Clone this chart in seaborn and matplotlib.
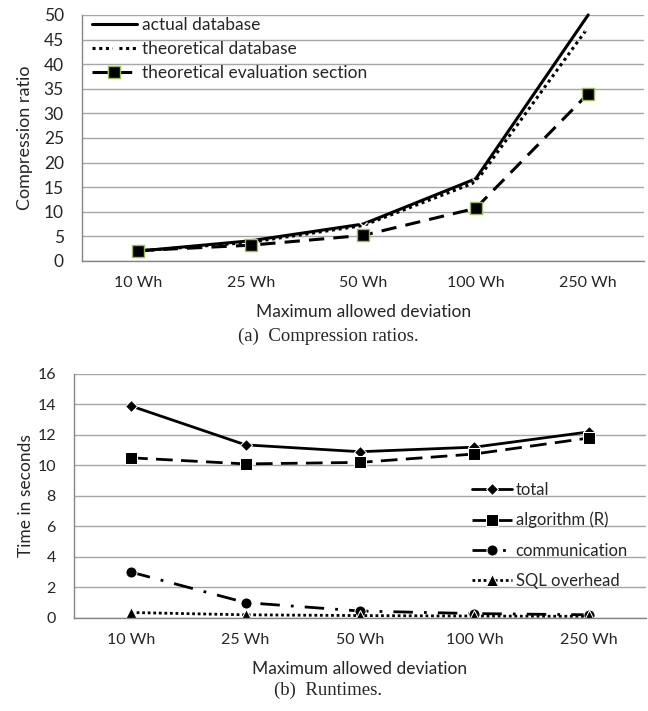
import matplotlib
matplotlib.use("Agg")
import matplotlib.pyplot as plt
import seaborn as sns
import pandas as pd
import numpy as np

# data
deviation = ["10 Wh", "25 Wh", "50 Wh", "100 Wh", "250 Wh"]

actual_db = [2.0, 4.1, 7.5, 16.7, 50.0]
theo_db = [2.0, 3.8, 7.2, 16.0, 47.5]
theo_eval = [2.1, 3.2, 5.2, 10.7, 34.0]

rt_total = [13.9, 11.35, 10.9, 11.2, 12.2]
rt_algo = [10.5, 10.1, 10.2, 10.75, 11.8]
rt_comm = [3.0, 1.0, 0.45, 0.28, 0.2]
rt_sql = [0.35, 0.2, 0.15, 0.12, 0.1]

sns.set_style("white")
plt.rcParams['font.family'] = ['Lato', 'DejaVu Sans']

GRID = '#a6a6a6'
SPINE = '#868686'


def style_axes(ax, ymax, ystep, tick_fs):
    ax.set_xlim(-0.5, len(deviation) - 0.5)
    ax.set_ylim(0, ymax)
    ax.set_yticks(np.arange(0, ymax + 0.1, ystep))
    ax.set_xticks(range(len(deviation)))
    ax.set_xticklabels(deviation, fontsize=11.5)
    ax.set_xticks(np.arange(-0.5, len(deviation), 1), minor=True)
    ax.tick_params(axis='x', which='major', length=0, pad=11)
    ax.tick_params(axis='x', which='minor', length=5, color=SPINE, direction='out')
    ax.tick_params(axis='y', length=5, color=SPINE, direction='out', labelsize=tick_fs, pad=8)
    ax.grid(axis='y', color=GRID, linewidth=1)
    ax.set_axisbelow(True)
    for s in ['top', 'right']:
        ax.spines[s].set_visible(False)
    for s in ['left', 'bottom']:
        ax.spines[s].set_color(SPINE)
        ax.spines[s].set_linewidth(1)
    ax.set_xlabel("Maximum allowed deviation", fontsize=12.5, labelpad=10)


fig = plt.figure(figsize=(6.48, 7.11), dpi=100)

# (a) compression ratios
ax1 = fig.add_axes([0.1265, 0.633, 0.868, 0.346])
df1 = pd.DataFrame({"dev": deviation, "actual": actual_db,
                    "theo": theo_db, "eval": theo_eval})
sns.lineplot(data=df1, x="dev", y="actual", ax=ax1, sort=False, color='black',
             linewidth=2.2, label="actual database", clip_on=False)
sns.lineplot(data=df1, x="dev", y="theo", ax=ax1, sort=False, color='black',
             linewidth=2.2, linestyle=(0, (1, 1.2)), marker='x', markersize=6,
             markeredgewidth=1, label="theoretical database")
sns.lineplot(data=df1, x="dev", y="eval", ax=ax1, sort=False, color='black',
             linewidth=2.2, linestyle=(0, (5, 3)), marker='s', markersize=9,
             markerfacecolor='black', markeredgecolor='#9bbb59', markeredgewidth=1,
             label="theoretical evaluation section")
style_axes(ax1, 50, 5, 12.5)
ax1.set_ylabel("Compression ratio", fontsize=13, labelpad=8)
ax1.legend(loc='upper left', frameon=False, fontsize=12.5, handlelength=2.6,
           handletextpad=0.3, labelspacing=0.45, borderaxespad=0.15,
           bbox_to_anchor=(0.0, 1.03))

# (b) runtimes
ax2 = fig.add_axes([0.114, 0.131, 0.883, 0.343])
df2 = pd.DataFrame({"dev": deviation, "total": rt_total, "algo": rt_algo,
                    "comm": rt_comm, "sql": rt_sql})
sns.lineplot(data=df2, x="dev", y="total", ax=ax2, sort=False, color='black',
             linewidth=2, marker='D', markersize=6, label="total")
sns.lineplot(data=df2, x="dev", y="algo", ax=ax2, sort=False, color='black',
             linewidth=2, linestyle=(0, (6, 3)), marker='s', markersize=8,
             label="algorithm (R)")
sns.lineplot(data=df2, x="dev", y="comm", ax=ax2, sort=False, color='black',
             linewidth=2, linestyle=(0, (7, 4, 1, 4)), marker='o', markersize=8,
             label="communication")
sns.lineplot(data=df2, x="dev", y="sql", ax=ax2, sort=False, color='black',
             linewidth=2, linestyle=(0, (1, 1)), marker='^', markersize=8,
             label="SQL overhead")
style_axes(ax2, 16, 2, 11.5)
ax2.set_ylabel("Time in seconds", fontsize=12.5, labelpad=2)
ax2.legend(loc='upper left', frameon=False, fontsize=12, handlelength=2.4,
           handletextpad=0.2, labelspacing=0.85,
           bbox_to_anchor=(0.67, 0.62))

fig.text(0.506, 1 - 336 / 711, "(a)  Compression ratios.", ha='center', va='center',
         fontsize=13.5, family='Liberation Serif')
fig.text(0.506, 1 - 690 / 711, "(b)  Runtimes.", ha='center', va='center',
         fontsize=13.5, family='Liberation Serif')

fig.savefig("out.png", dpi=100)
